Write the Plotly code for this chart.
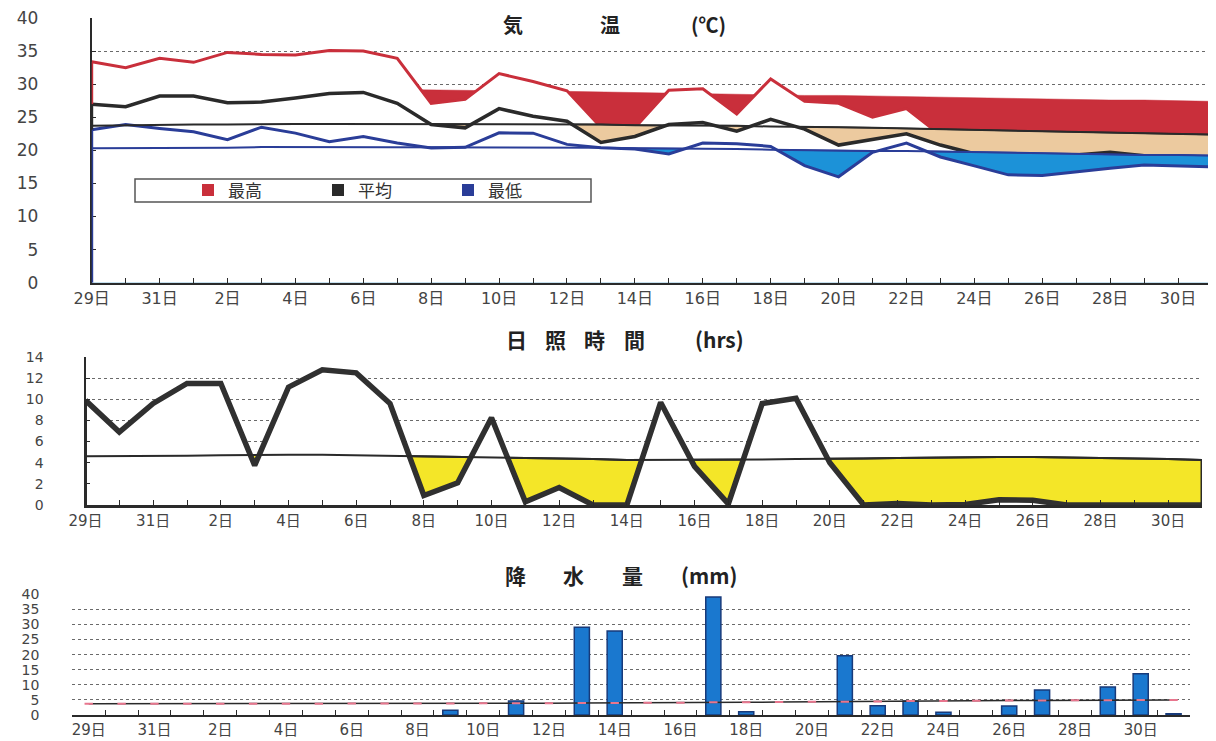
import plotly.graph_objects as go

# ---------------- data ----------------
days = [29, 30, 31, 1, 2, 3, 4, 5, 6, 7, 8, 9, 10, 11, 12, 13, 14, 15, 16, 17,
        18, 19, 20, 21, 22, 23, 24, 25, 26, 27, 28, 29, 30, 31]

max_temp = [33.4, 32.5, 33.9, 33.3, 34.8, 34.5, 34.4, 35.1, 35.0, 33.9,
            27.1, 27.7, 31.6, 30.4, 29.0, 23.5, 23.4, 29.1, 29.3, 25.5,
            30.8, 27.4, 27.1, 25.0, 26.3, 22.3, 21.8, 21.5, 21.3, 21.5,
            21.6, 21.2, 20.8, 20.6]
mean_temp = [26.95, 26.6, 28.2, 28.2, 27.2, 27.3, 27.9, 28.6, 28.75, 27.1,
             23.9, 23.4, 26.3, 25.15, 24.4, 21.2, 22.1, 23.9, 24.2, 22.9,
             24.7, 23.2, 20.8, 21.7, 22.5, 20.8, 19.5, 19.4, 19.4, 19.3,
             19.7, 19.2, 19.1, 19.0]
min_temp = [23.1, 23.9, 23.3, 22.8, 21.6, 23.5, 22.6, 21.3, 22.1, 21.1,
            20.35, 20.45, 22.65, 22.6, 20.9, 20.4, 20.2, 19.45, 21.1, 21.0,
            20.6, 17.7, 16.0, 19.7, 21.1, 19.0, 17.65, 16.3, 16.2, 16.8,
            17.3, 17.8, 17.7, 17.5]
norm_max = [29.6, 29.6, 29.6, 29.5, 29.5, 29.5, 29.4, 29.4, 29.3, 29.2,
            29.1, 29.1, 29.0, 29.0, 28.9, 28.8, 28.7, 28.6, 28.5, 28.5,
            28.4, 28.3, 28.3, 28.2, 28.1, 28.0, 27.9, 27.9, 27.8, 27.7,
            27.6, 27.6, 27.5, 27.4]
norm_mean = [23.7, 23.8, 23.8, 23.9, 23.9, 24.0, 24.0, 24.0, 24.0, 24.0,
             24.0, 24.0, 24.0, 23.9, 23.9, 23.9, 23.8, 23.8, 23.7, 23.7,
             23.6, 23.6, 23.5, 23.4, 23.3, 23.2, 23.1, 23.0, 22.9, 22.8,
             22.7, 22.6, 22.5, 22.4]
norm_min = [20.3, 20.3, 20.4, 20.4, 20.4, 20.5, 20.5, 20.5, 20.5, 20.5,
            20.5, 20.5, 20.5, 20.5, 20.4, 20.4, 20.3, 20.3, 20.2, 20.2,
            20.1, 20.0, 20.0, 19.9, 19.9, 19.8, 19.7, 19.6, 19.6, 19.5,
            19.4, 19.3, 19.3, 19.2]

sunshine = [9.9, 6.9, 9.6, 11.5, 11.5, 3.75, 11.15, 12.8, 12.5, 9.6,
            0.9, 2.1, 8.25, 0.3, 1.65, 0.0, 0.0, 9.7, 3.65, 0.1,
            9.6, 10.1, 4.0, 0.0, 0.15, 0.0, 0.05, 0.5, 0.45, 0.0,
            0.0, 0.0, 0.0, 0.0]
norm_sun = [4.6, 4.6, 4.6, 4.65, 4.7, 4.75, 4.75, 4.75, 4.7, 4.65,
            4.6, 4.55, 4.5, 4.5, 4.45, 4.35, 4.25, 4.25, 4.3, 4.3,
            4.3, 4.35, 4.35, 4.4, 4.45, 4.5, 4.55, 4.55, 4.55, 4.5,
            4.5, 4.4, 4.35, 4.25]

precip = [0, 0, 0, 0, 0, 0, 0, 0, 0, 0,
          0, 1.6, 0, 4.6, 0, 29.1, 27.8, 0, 0, 39.1,
          1.1, 0, 0, 19.6, 3.1, 4.6, 0.9, 0, 3.0, 8.3,
          0, 9.3, 13.7, 0.4]
norm_precip = [3.7, 3.7, 3.7, 3.7, 3.7, 3.7, 3.7, 3.7, 3.8, 3.8,
               3.8, 3.8, 3.9, 3.9, 3.9, 4.0, 4.0, 4.1, 4.1, 4.2,
               4.2, 4.3, 4.4, 4.4, 4.5, 4.6, 4.6, 4.7, 4.8, 4.8,
               4.9, 4.9, 5.0, 5.0]

temp_ticks = [0, 5, 10, 15, 20, 25, 30, 35, 40]
temp_grid = [5, 10, 15, 20, 25, 30, 35]

# chart titles (pieces are spread out as in the original)
title_temp = ["気", "温", "(℃)"]
title_sun = ["日", "照", "時", "間", "(hrs)"]
title_rain = ["降", "水", "量", "(mm)"]

# ---------------- styling ----------------
RED = "#c92f3b"
TAN = "#ecca9f"
BLUE_FILL = "#1c92d8"
NAVY = "#2a3d98"
BLACK = "#2a2a2a"
YELLOW = "#f4e628"
BAR = "#1a78cf"
GRID = "#6a6a6a"
TXT = "#444444"
FONT = "Noto Sans CJK JP"
TICKFONT = "DejaVu Sans, Noto Sans CJK JP"

# page geometry (the page body adds an 8px offset)
W, H, OFF = 1208, 733, 8


def fx(px):
    return (px - OFF) / W


def fy(py):
    return 1 - (py - OFF) / H


idx = list(range(len(days)))
labels = [f"{d}日" for d in days]
tick_text = [lab if i % 2 == 0 else "" for i, lab in enumerate(labels)]

fig = go.Figure()


def area(y, fill, lc, lw, xa, ya):
    fig.add_trace(go.Scatter(x=idx, y=y, mode="lines", fill="tozeroy",
                             fillcolor=fill, line=dict(color=lc, width=lw),
                             xaxis=xa, yaxis=ya, showlegend=False,
                             hoverinfo="skip"))


def line(y, lc, lw, xa, ya):
    fig.add_trace(go.Scatter(x=idx, y=y, mode="lines",
                             line=dict(color=lc, width=lw),
                             xaxis=xa, yaxis=ya, showlegend=False,
                             hoverinfo="skip"))


# temperature: stacked "below normal" areas
area(norm_max, RED, RED, 0.5, "x", "y")
area(max_temp, "white", RED, 3, "x", "y")
area(norm_mean, TAN, BLACK, 1.5, "x", "y")
area(mean_temp, "white", BLACK, 3.5, "x", "y")
area(norm_min, BLUE_FILL, NAVY, 1.5, "x", "y")
area(min_temp, "white", NAVY, 3, "x", "y")
line(norm_mean, BLACK, 2, "x", "y")
line(norm_min, NAVY, 2, "x", "y")

# legend entries
for name, col in [("最高", RED), ("平均", BLACK), ("最低", NAVY)]:
    fig.add_trace(go.Scatter(x=[None], y=[None], mode="markers", name=name,
                             marker=dict(symbol="square", size=12, color=col),
                             xaxis="x", yaxis="y"))

# sunshine
area(norm_sun, YELLOW, BLACK, 2, "x2", "y2")
area(sunshine, "white", "#303030", 5.5, "x2", "y2")
line(norm_sun, BLACK, 2, "x2", "y2")

# precipitation
fig.add_trace(go.Bar(x=idx, y=precip, width=0.46,
                     marker=dict(color=BAR, line=dict(color="#183a7a",
                                                      width=[1.5 if v > 0 else 0 for v in precip])),
                     xaxis="x3", yaxis="y3", showlegend=False, hoverinfo="skip"))
fig.add_trace(go.Scatter(x=idx, y=norm_precip, mode="lines", line=dict(color=BLACK, width=1.5),
                         xaxis="x3", yaxis="y3", showlegend=False, hoverinfo="skip"))
fig.add_trace(go.Scatter(x=idx, y=norm_precip, mode="markers",
                         marker=dict(symbol="line-ew", size=6, line=dict(color="#e8768e", width=2)),
                         xaxis="x3", yaxis="y3", showlegend=False, hoverinfo="skip"))

xcommon = dict(showgrid=False, zeroline=False, showline=True, linecolor=BLACK,
               automargin=False, ticklabeloverflow="allow")

fig.update_layout(
    width=W, height=H,
    margin=dict(l=0, r=0, t=0, b=0, autoexpand=False),
    paper_bgcolor="white", plot_bgcolor="white",
    font=dict(family=FONT, color=TXT),
    xaxis=dict(domain=[fx(91.7), fx(1212)], range=[0, len(days) - 1], anchor="y",
               tickmode="array", tickvals=idx, ticktext=tick_text,
               ticks="inside", ticklen=5, tickcolor=BLACK, linewidth=2,
               tickfont=dict(family=TICKFONT, size=16, color=TXT), **xcommon),
    yaxis=dict(domain=[fy(282.7), fy(18)], range=[0, 40], anchor="x", automargin=False,
               ticklabeloverflow="allow",
               tickmode="array", tickvals=temp_ticks, ticks="inside", ticklen=4,
               tickcolor=BLACK, showline=True, linecolor=BLACK, linewidth=2,
               showgrid=False, zeroline=False, ticklabelstandoff=48,
               tickfont=dict(family=TICKFONT, size=17, color=TXT),
               minor=dict(tickmode="array", tickvals=temp_grid, showgrid=True,
                          gridcolor=GRID, griddash="dot", gridwidth=1)),
    xaxis2=dict(domain=[fx(85.5), fx(1202)], range=[0, len(days) - 1], anchor="y2",
                tickmode="array", tickvals=idx, ticktext=tick_text,
                ticks="inside", ticklen=5, tickcolor=BLACK, linewidth=3,
                tickfont=dict(family=TICKFONT, size=15, color=TXT), **xcommon),
    yaxis2=dict(domain=[fy(505), fy(357)], range=[0, 14], anchor="x2", dtick=2,
                automargin=False, ticklabeloverflow="allow",
                ticks="inside", ticklen=4, tickcolor=BLACK,
                showline=True, linecolor=BLACK, linewidth=2,
                showgrid=True, gridcolor=GRID, griddash="dot", gridwidth=1,
                zeroline=False, ticklabelstandoff=37,
                tickfont=dict(family=TICKFONT, size=14, color=TXT)),
    xaxis3=dict(domain=[fx(72.3), fx(1190)], range=[-0.5, len(days) - 0.5], anchor="y3",
                tickmode="array", tickvals=idx[::2], ticktext=labels[::2],
                ticks="", linewidth=2,
                minor=dict(tickmode="array", tickvals=[i + 0.5 for i in idx[:-1]],
                           ticks="inside", ticklen=5, tickcolor=BLACK, showgrid=False),
                tickfont=dict(family=TICKFONT, size=15, color=TXT), **xcommon),
    yaxis3=dict(domain=[fy(715), fy(594.3)], range=[0, 40], anchor="x3", dtick=5,
                automargin=False, ticklabeloverflow="allow",
                showline=False, ticks="", showgrid=True, gridcolor=GRID,
                griddash="dot", gridwidth=1, zeroline=False, ticklabelstandoff=32,
                tickfont=dict(family=TICKFONT, size=14, color=TXT)),
    legend=dict(orientation="h", x=fx(188), y=fy(190.5), xanchor="left", yanchor="middle",
                bgcolor="rgba(0,0,0,0)", borderwidth=0,
                font=dict(family=FONT, size=17, color="#333"),
                entrywidth=85, entrywidthmode="pixels"),
    showlegend=True,
)

# titles, piece by piece
title_layout = [
    (title_temp, [513, 610, 708], 24, 20),
    (title_sun, [516, 555, 594, 634, 719], 339, 21),
    (title_rain, [515, 573, 632, 709], 575, 21),
]
for pieces, centers, yy, fs in title_layout:
    for txt, xx in zip(pieces, centers):
        fig.add_annotation(text=f"<b>{txt}</b>", x=fx(xx), y=fy(yy),
                           xref="paper", yref="paper", xanchor="center", yanchor="middle",
                           showarrow=False, font=dict(family=FONT, size=fs, color="#222"))

# legend frame
fig.add_shape(type="rect", xref="paper", yref="paper", x0=fx(135), x1=fx(591),
              y0=fy(202), y1=fy(179), line=dict(color="#555", width=1.5))

# area outline edges (as drawn by the original area series)
last = len(days) - 1
edges = [
    (0, max_temp[0], mean_temp[0], RED, "x", "y"),
    (0, mean_temp[0], min_temp[0], BLACK, "x", "y"),
    (0, min_temp[0], 0, NAVY, "x", "y"),
    (last, norm_mean[-1], norm_min[-1], BLACK, "x", "y"),
    (last, norm_min[-1], 0, NAVY, "x", "y"),
    (0, sunshine[0], 0, BLACK, "x2", "y2"),
    (last, norm_sun[-1], 0, BLACK, "x2", "y2"),
]
for xv, ya, yb, col, xr, yr in edges:
    fig.add_shape(type="line", xref=xr, yref=yr, x0=xv, x1=xv, y0=ya, y1=yb,
                  line=dict(color=col, width=3))

fig.write_html("out.html")
